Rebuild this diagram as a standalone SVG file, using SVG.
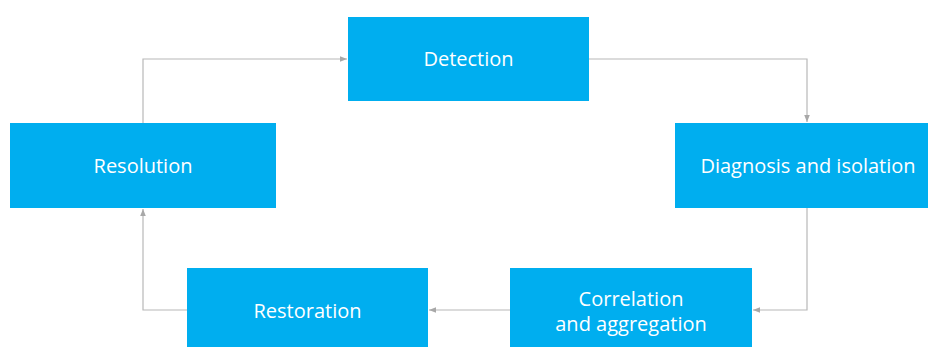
<svg xmlns="http://www.w3.org/2000/svg" width="928" height="347" viewBox="0 0 928 347">
<style>
.box{fill:#00aeef}
.lbl{fill:#ffffff;font-family:"Open Sans","Liberation Sans",sans-serif;font-size:20px;text-anchor:middle;dominant-baseline:central}
.con{fill:none;stroke:#b8b8b8;stroke-width:1.2}
</style>
<defs>
<marker id="ah" viewBox="0 0 10 10" refX="10" refY="5" markerWidth="7" markerHeight="7" markerUnits="userSpaceOnUse" orient="auto">
<path d="M0,1 L10,5 L0,9 Z" fill="#a8a8a8"/>
</marker>
</defs>
<rect width="928" height="347" fill="#ffffff"/>
<g id="connectors">
<polyline class="con" points="589,59 807,59 807,122" marker-end="url(#ah)"/>
<polyline class="con" points="807,208 807,310 753,310" marker-end="url(#ah)"/>
<polyline class="con" points="510,310 429,310" marker-end="url(#ah)"/>
<polyline class="con" points="187,310 143,310 143,209" marker-end="url(#ah)"/>
<polyline class="con" points="143,123 143,59 347,59" marker-end="url(#ah)"/>
</g>
<g id="detection">
<rect class="box" x="348" y="17" width="241" height="84"/>
<text class="lbl" x="468.5" y="58">Detection</text>
</g>
<g id="diagnosis">
<rect class="box" x="675" y="123" width="266" height="85"/>
<text class="lbl" x="808" y="165">Diagnosis and isolation</text>
</g>
<g id="correlation">
<rect class="box" x="510" y="268" width="242" height="84"/>
<text class="lbl" x="631" y="298">Correlation</text>
<text class="lbl" x="631" y="323">and aggregation</text>
</g>
<g id="restoration">
<rect class="box" x="187" y="268" width="241" height="84"/>
<text class="lbl" x="307.5" y="310">Restoration</text>
</g>
<g id="resolution">
<rect class="box" x="10" y="123" width="266" height="85"/>
<text class="lbl" x="143" y="165">Resolution</text>
</g>
</svg>
